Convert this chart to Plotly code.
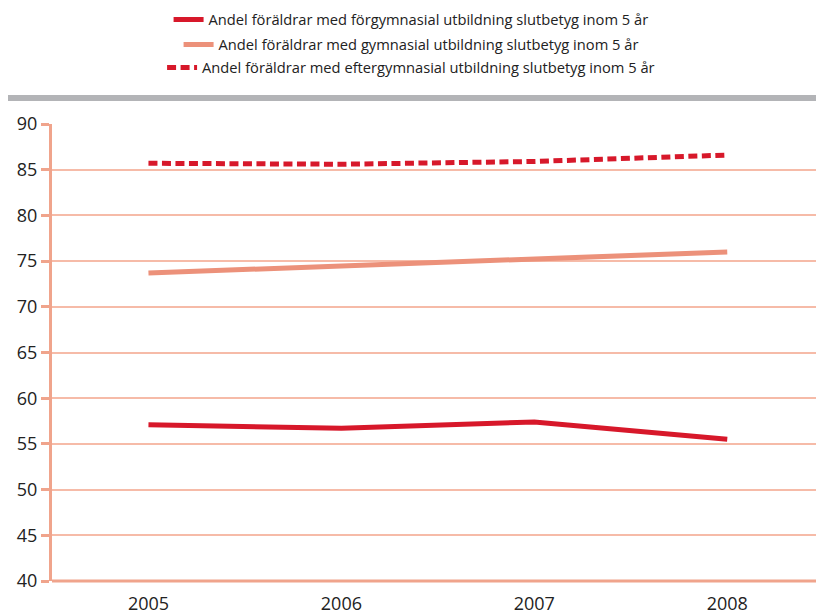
import plotly.graph_objects as go

years = ["2005", "2006", "2007", "2008"]
forgymnasial = [57.1, 56.7, 57.4, 55.5]
gymnasial = [73.7, 74.5, 75.2, 76.0]
eftergymnasial = [85.7, 85.6, 85.9, 86.6]
names = [
    "Andel föräldrar med förgymnasial utbildning slutbetyg inom 5 år",
    "Andel föräldrar med gymnasial utbildning slutbetyg inom 5 år",
    "Andel föräldrar med eftergymnasial utbildning slutbetyg inom 5 år",
]
y_ticks = [40, 45, 50, 55, 60, 65, 70, 75, 80, 85, 90]

RED = "#d7182a"
SALMON = "#ec917a"
GRID = "#f6bba8"
AXIS = "#f0a48c"

fig = go.Figure()
fig.add_trace(go.Scatter(x=years, y=forgymnasial, name=names[0], mode="lines",
                         line=dict(color=RED, width=5), legend="legend", showlegend=True))
fig.add_trace(go.Scatter(x=years, y=gymnasial, name=names[1], mode="lines",
                         line=dict(color=SALMON, width=5), legend="legend2", showlegend=True))
fig.add_trace(go.Scatter(x=years, y=eftergymnasial, name=names[2], mode="lines",
                         line=dict(color=RED, width=5, dash="9px,4.5px"), legend="legend3",
                         showlegend=True))

H = 457.0
def py(pix):
    return (581 - pix) / H

leg_common = dict(x=0.47, xanchor="center", yanchor="middle", bgcolor="rgba(0,0,0,0)",
                  font=dict(family="Open Sans", size=14.7, color="#222222"),
                  itemwidth=30, tracegroupgap=0, visible=True)

fig.update_layout(
    width=816, height=614,
    showlegend=True,
    margin=dict(l=52, r=0, t=124, b=33),
    paper_bgcolor="white", plot_bgcolor="white",
    font=dict(family="Open Sans", color="#222222"),
    legend=dict(y=py(20), **leg_common),
    legend2=dict(y=py(45), **leg_common),
    legend3=dict(y=py(68), **leg_common),
    xaxis=dict(type="category", range=[-0.5, 3.46], showgrid=False, showline=False,
               ticks="", ticklabelstandoff=10, tickfont=dict(size=18, color="#222222"),
               zeroline=False),
    yaxis=dict(range=[40, 90], tickvals=y_ticks, showgrid=True, gridcolor=GRID, gridwidth=2,
               showline=True, linecolor=AXIS, linewidth=3, ticks="outside", ticklen=8,
               tickwidth=3, tickcolor=AXIS, tickfont=dict(size=18, color="#222222"),
               zeroline=False),
    shapes=[
        dict(type="rect", xref="paper", yref="paper", x0=(8 - 52) / 764, x1=1.0,
             y0=py(101), y1=py(95), fillcolor="#b3b4b7", line=dict(width=0), layer="above"),
        dict(type="line", xref="paper", yref="paper", x0=0, x1=1, y0=0, y1=0,
             line=dict(color=AXIS, width=3), layer="below"),
    ],
)

fig.write_html("out.html")
